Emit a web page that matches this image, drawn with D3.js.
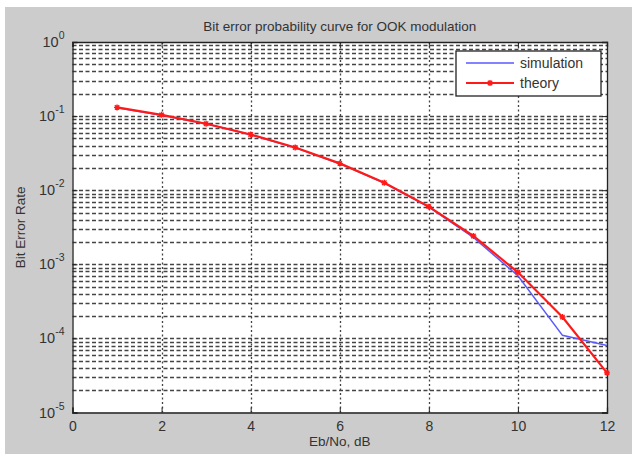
<!DOCTYPE html>
<html>
<head>
<meta charset="utf-8">
<script src="https://cdn.jsdelivr.net/npm/d3@7"></script>
<style>
  html, body { margin: 0; padding: 0; background: #fff; }
  svg { display: block; }
</style>
</head>
<body>
<div id="chart"></div>
<script>
'use strict';

var snrDb = [1, 2, 3, 4, 5, 6, 7, 8, 9, 10, 11, 12];
var simulation = [0.130, 0.103, 0.079, 0.056, 0.0375, 0.0228, 0.0125, 0.0059, 0.0023, 0.00070, 0.000110, 0.000080];
var theory = [0.131, 0.104, 0.0789, 0.0565, 0.0377, 0.0230, 0.0126, 0.0060, 0.00241, 0.00078, 0.000194, 0.0000343];
var xTicks = [0, 2, 4, 6, 8, 10, 12];
var yDecades = [0, -1, -2, -3, -4, -5];

var width = 632, height = 454;
var margin = { left: 72.5, right: 25, top: 42, bottom: 41.5 };

var svg = d3.select('#chart').append('svg')
  .attr('width', width)
  .attr('height', height)
  .style('font-family', 'Arial, "Liberation Sans", sans-serif');

svg.append('rect')
  .attr('x', 5).attr('y', 7)
  .attr('width', width - 5).attr('height', height - 7)
  .attr('fill', '#cccccc');

var x = d3.scaleLinear().domain([0, 12]).range([margin.left, width - margin.right]);
var y = d3.scaleLog().domain([1e-5, 1]).range([height - margin.bottom, margin.top]);

svg.append('rect')
  .attr('x', x(0)).attr('y', y(1))
  .attr('width', x(12) - x(0)).attr('height', y(1e-5) - y(1))
  .attr('fill', '#fff');

// log grid: majors plus 2..9 minors
var yGrid = [];
yDecades.forEach(function (d) {
  if (d > -5) {
    for (var m = 1; m < 10; m++) {
      yGrid.push(m * Math.pow(10, d - 1));
    }
  }
});
yGrid = yGrid.filter(function (v) { return v > 1e-5 && v < 1; });

var grid = svg.append('g')
  .attr('stroke', '#444')
  .attr('stroke-width', 1.3)
  .attr('fill', 'none');

grid.selectAll('line.h')
  .data(yGrid).enter()
  .append('line')
  .attr('class', 'h')
  .attr('x1', x(0)).attr('x2', x(12))
  .attr('y1', function (v) { return Math.round(y(v)) + 0.5; })
  .attr('y2', function (v) { return Math.round(y(v)) + 0.5; })
  .attr('stroke-dasharray', '4,2.5');

grid.selectAll('line.v')
  .data(xTicks.slice(1, -1)).enter()
  .append('line')
  .attr('class', 'v')
  .attr('y1', y(1)).attr('y2', y(1e-5))
  .attr('x1', function (v) { return Math.round(x(v)) + 0.5; })
  .attr('x2', function (v) { return Math.round(x(v)) + 0.5; })
  .attr('stroke-dasharray', '2,2.5');

// axes box with inward ticks
var xAxis = d3.axisBottom(x).tickValues(xTicks).tickSize(-5).tickPadding(9);
var xAxisTop = d3.axisTop(x).tickValues(xTicks).tickSize(-5).tickFormat('');
var yAxis = d3.axisLeft(y).tickValues(yDecades.map(function (d) { return Math.pow(10, d); }))
  .tickSize(-5).tickPadding(6).tickFormat('');
var yAxisRight = d3.axisRight(y).tickValues(yDecades.map(function (d) { return Math.pow(10, d); }))
  .tickSize(-5).tickFormat('');

function styleAxis(g) {
  g.select('.domain').attr('stroke', '#222').attr('stroke-width', 1.3);
  g.selectAll('.tick line').attr('stroke', '#222');
  g.selectAll('.tick text').attr('fill', '#333').attr('font-size', 14);
}

svg.append('g').attr('transform', 'translate(0,' + y(1e-5) + ')').call(xAxis).call(styleAxis);
svg.append('g').attr('transform', 'translate(0,' + y(1) + ')').call(xAxisTop).call(styleAxis);
svg.append('g').attr('transform', 'translate(' + x(0) + ',0)').call(yAxis).call(styleAxis);
svg.append('g').attr('transform', 'translate(' + x(12) + ',0)').call(yAxisRight).call(styleAxis);

var yLabels = svg.append('g');
yDecades.forEach(function (d) {
  var t = yLabels.append('text')
    .attr('x', x(0) - 8)
    .attr('y', y(Math.pow(10, d)) + 5)
    .attr('text-anchor', 'end')
    .attr('fill', '#333')
    .attr('font-size', 14.5);
  t.append('tspan').text('10');
  t.append('tspan').text(d).attr('font-size', 10.5).attr('dy', -8);
});

// series
var line = d3.line()
  .x(function (d) { return x(d[0]); })
  .y(function (d) { return y(d[1]); });

svg.append('path')
  .datum(d3.zip(snrDb, simulation))
  .attr('d', line)
  .attr('fill', 'none')
  .attr('stroke', '#5a5aff')
  .attr('stroke-width', 1.5);

svg.append('path')
  .datum(d3.zip(snrDb, theory))
  .attr('d', line)
  .attr('fill', 'none')
  .attr('stroke', '#ff1a1a')
  .attr('stroke-width', 2.2);

var starPath = 'M-3,0L3,0M0,-3L0,3M-2.2,-2.2L2.2,2.2M-2.2,2.2L2.2,-2.2';

svg.append('g').selectAll('path')
  .data(d3.zip(snrDb, theory)).enter()
  .append('path')
  .attr('transform', function (d) { return 'translate(' + x(d[0]) + ',' + y(d[1]) + ')'; })
  .attr('d', starPath)
  .attr('stroke', '#ff1a1a')
  .attr('stroke-width', 1.4);

// title and labels
svg.append('text')
  .attr('x', (x(0) + x(12)) / 2)
  .attr('y', 31)
  .attr('text-anchor', 'middle')
  .attr('fill', '#333')
  .attr('font-size', 13.5)
  .text('Bit error probability curve for OOK modulation');

svg.append('text')
  .attr('x', (x(0) + x(12)) / 2)
  .attr('y', 446)
  .attr('text-anchor', 'middle')
  .attr('fill', '#333')
  .attr('font-size', 13.5)
  .text('Eb/No, dB');

svg.append('text')
  .attr('transform', 'translate(25,' + (y(1e-5) + y(1)) / 2 + ') rotate(-90)')
  .attr('text-anchor', 'middle')
  .attr('fill', '#333')
  .attr('font-size', 13.5)
  .text('Bit Error Rate');

// legend
var legend = svg.append('g').attr('transform', 'translate(456,51)');
legend.append('rect')
  .attr('width', 145).attr('height', 45)
  .attr('fill', '#fff')
  .attr('stroke', '#222')
  .attr('stroke-width', 1.3);

legend.append('line')
  .attr('x1', 10).attr('x2', 58).attr('y1', 12).attr('y2', 12)
  .attr('stroke', '#5a5aff').attr('stroke-width', 1.5);
legend.append('text')
  .attr('x', 64).attr('y', 17)
  .attr('fill', '#333').attr('font-size', 14)
  .text('simulation');

legend.append('line')
  .attr('x1', 10).attr('x2', 58).attr('y1', 32).attr('y2', 32)
  .attr('stroke', '#ff1a1a').attr('stroke-width', 2.2);
legend.append('path')
  .attr('transform', 'translate(34,32)')
  .attr('d', starPath)
  .attr('stroke', '#ff1a1a').attr('stroke-width', 1.4);
legend.append('text')
  .attr('x', 64).attr('y', 37)
  .attr('fill', '#333').attr('font-size', 14)
  .text('theory');
</script>
</body>
</html>
